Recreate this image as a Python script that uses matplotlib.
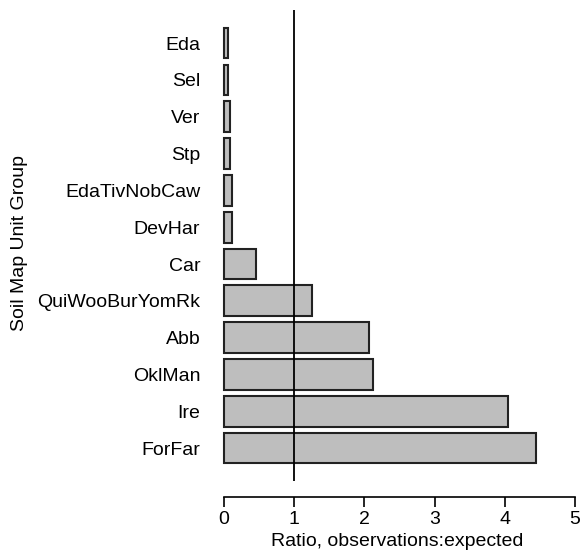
import matplotlib.pyplot as plt
import numpy as np

plt.rcParams['font.family'] = ['Liberation Sans', 'DejaVu Sans']

# bottom to top, as in the reference
groups = ['ForFar', 'Ire', 'OklMan', 'Abb', 'QuiWooBurYomRk', 'Car',
          'DevHar', 'EdaTivNobCaw', 'Stp', 'Ver', 'Sel', 'Eda']
ratio = [4.45, 4.04, 2.12, 2.07, 1.26, 0.46, 0.12, 0.12, 0.08, 0.08, 0.06, 0.06]

W, H = 581, 550
fig = plt.figure(figsize=(W / 100, H / 100), dpi=100)

# plot region in pixels (R style)
x0, x1 = 210, 589
y_top, y_bot = 10.4, 480.8
ax = fig.add_axes([x0 / W, 1 - y_bot / H, (x1 - x0) / W, (y_bot - y_top) / H])

pos = 0.7 + 1.2 * np.arange(len(groups))
ax.barh(pos, ratio, height=1.0, color='#BEBEBE', edgecolor='#222222', linewidth=1.5)
ax.axvline(1, color='black', linewidth=1.3)

ax.set_xlim(-0.2, 5.2)
ax.set_ylim(-0.368, 14.968)

ax.set_yticks(pos)
ax.set_yticklabels(groups, fontsize=14)
ax.tick_params(axis='y', length=0, pad=7)

for s in ['top', 'right', 'left']:
    ax.spines[s].set_visible(False)
ax.spines['bottom'].set_position(('outward', 12))
ax.spines['bottom'].set_bounds(0, 5)
ax.spines['bottom'].set_linewidth(1.2)
ax.set_xticks([0, 1, 2, 3, 4, 5])
ax.tick_params(axis='x', length=7.5, width=1.2, labelsize=14, pad=2.5)
for lab in ax.get_xticklabels():
    lab.set_clip_on(False)

fig.text(397 / W, 1 - 541 / H, 'Ratio, observations:expected', fontsize=14,
         ha='center', va='center')
fig.text(20 / W, 1 - 243 / H, 'Soil Map Unit Group', rotation=90,
         fontsize=14, ha='center', va='center')

fig.savefig('out.png', dpi=100)
